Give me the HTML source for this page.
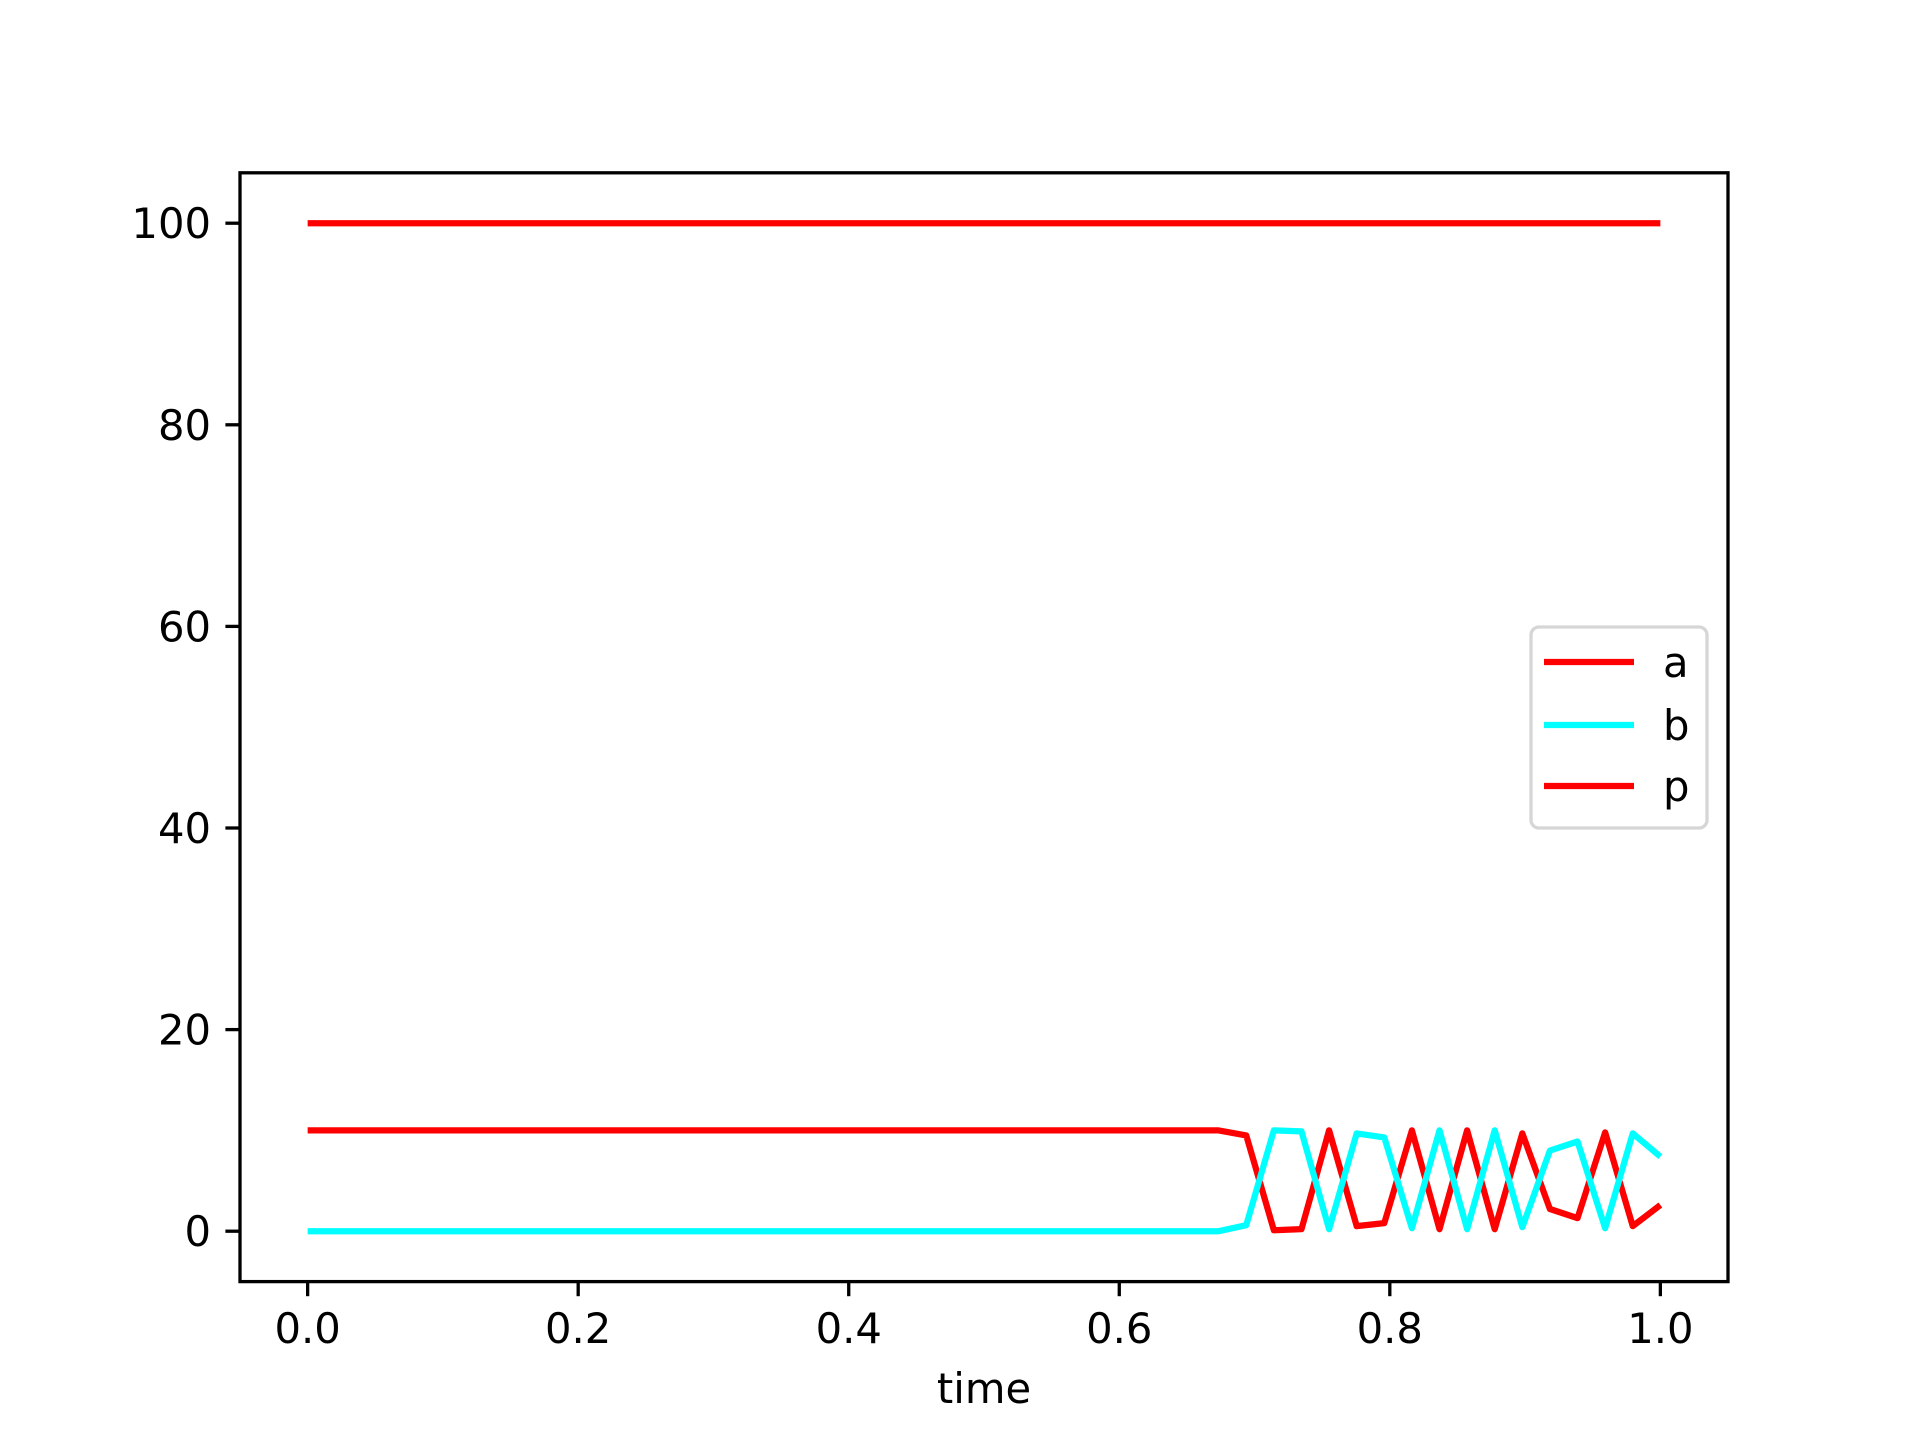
<!DOCTYPE html>
<html><head><meta charset="utf-8"><style>
html,body{margin:0;padding:0;background:#fff}
svg{display:block}
text{font-family:"DejaVu Sans","Liberation Sans",sans-serif;font-size:41.7px;fill:#000}
</style></head><body>
<svg id="chart" width="1920" height="1440" viewBox="0 0 1920 1440" xmlns="http://www.w3.org/2000/svg">
<rect width="1920" height="1440" fill="#fff"/>
<g id="marks"></g>
<g id="axes"></g>
<text x="984" y="1403" text-anchor="middle">time</text>
<g>
<rect x="1531" y="627" width="176" height="201" rx="8" fill="#fff" fill-opacity="0.8" stroke="#d6d6d6" stroke-width="3.3"/>
<line x1="1544" y1="662" x2="1634" y2="662" stroke="#ff0000" stroke-width="6.25"/>
<text x="1663" y="677">a</text>
<line x1="1544" y1="725" x2="1634" y2="725" stroke="#00ffff" stroke-width="6.25"/>
<text x="1663" y="740">b</text>
<line x1="1544" y1="786" x2="1634" y2="786" stroke="#ff0000" stroke-width="6.25"/>
<text x="1663" y="801">p</text>
</g>
</svg>
<script>
const tail_a = [10, 9.5, 0.1, 0.2, 10, 0.5, 0.8, 10, 0.2, 10, 0.2, 9.7, 2.2, 1.3, 9.8, 0.5, 2.6];
const tail_b = [0, 0.6, 10, 9.9, 0.2, 9.7, 9.3, 0.3, 10, 0.2, 10, 0.4, 8.0, 8.9, 0.3, 9.7, 7.4];
const nPoints = 50;
const flatA = 10, flatB = 0, pValue = 100;
const xTicks = [0.0, 0.2, 0.4, 0.6, 0.8, 1.0];
const xTickLabels = ["0.0", "0.2", "0.4", "0.6", "0.8", "1.0"];
const yTicks = [0, 20, 40, 60, 80, 100];
const yTickLabels = ["0", "20", "40", "60", "80", "100"];

const L=240, R=1728, T=172.8, B=1281.6;
const X = v => L + (v + 0.05) / 1.1 * (R - L);
const Y = v => B - (v + 5) / 110 * (B - T);
const NS = "http://www.w3.org/2000/svg";
const marks = document.getElementById('marks');
const axes = document.getElementById('axes');

const times = [], a = [], b = [], p = [];
const nFlat = nPoints - tail_a.length;
for (let i = 0; i < nPoints; i++) {
  times.push(i / (nPoints - 1));
  a.push(i < nFlat ? flatA : tail_a[i - nFlat]);
  b.push(i < nFlat ? flatB : tail_b[i - nFlat]);
  p.push(pValue);
}
function drawLine(vals, color, name) {
  const el = document.createElementNS(NS, 'polyline');
  el.setAttribute('points', vals.map((v, i) => X(times[i]).toFixed(2) + ',' + Y(v).toFixed(2)).join(' '));
  el.setAttribute('fill', 'none');
  el.setAttribute('stroke', color);
  el.setAttribute('stroke-width', '6.25');
  el.setAttribute('stroke-linejoin', 'round');
  
  
  marks.appendChild(el);
}
drawLine(a, '#ff0000', 'series-a-line');
drawLine(b, '#00ffff', 'series-b-line');
drawLine(p, '#ff0000', 'series-p-line');

const frame = document.createElementNS(NS, 'rect');
frame.setAttribute('x', L); frame.setAttribute('y', T);
frame.setAttribute('width', R - L); frame.setAttribute('height', B - T);
frame.setAttribute('fill', 'none'); frame.setAttribute('stroke', '#000'); frame.setAttribute('stroke-width', '3.3');


axes.appendChild(frame);

xTicks.forEach((t, i) => {
  const ln = document.createElementNS(NS, 'line');
  ln.setAttribute('x1', X(t)); ln.setAttribute('x2', X(t));
  ln.setAttribute('y1', B); ln.setAttribute('y2', B + 14.6);
  ln.setAttribute('stroke', '#000'); ln.setAttribute('stroke-width', '3.3');
  
  
  axes.appendChild(ln);
  const tx = document.createElementNS(NS, 'text');
  tx.setAttribute('x', X(t)); tx.setAttribute('y', 1343);
  tx.setAttribute('text-anchor', 'middle');
  tx.textContent = xTickLabels[i];
  
  
  axes.appendChild(tx);
});
yTicks.forEach((t, i) => {
  const ln = document.createElementNS(NS, 'line');
  ln.setAttribute('x1', L - 14.6); ln.setAttribute('x2', L);
  ln.setAttribute('y1', Y(t)); ln.setAttribute('y2', Y(t));
  ln.setAttribute('stroke', '#000'); ln.setAttribute('stroke-width', '3.3');
  
  
  axes.appendChild(ln);
  const tx = document.createElementNS(NS, 'text');
  tx.setAttribute('x', 211); tx.setAttribute('y', Y(t) + 15);
  tx.setAttribute('text-anchor', 'end');
  tx.textContent = yTickLabels[i];
  
  
  axes.appendChild(tx);
});
</script>
</body></html>
